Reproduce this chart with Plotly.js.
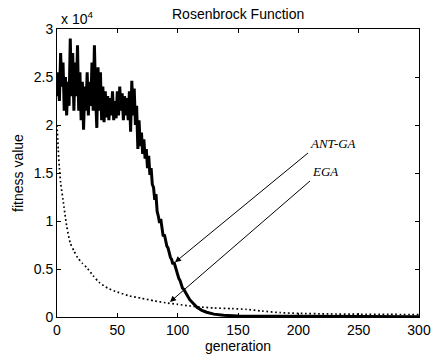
<!DOCTYPE html>
<html>
<head>
<meta charset="utf-8">
<script src="https://cdn.plot.ly/plotly-3.0.1.min.js"></script>
<style>html,body{margin:0;padding:0;background:#fff;}#chart{width:441px;height:357px;}</style>
</head>
<body>
<div id="chart"></div>
<script>
// ANT-GA (solid, noisy): generation / fitness
const antGen = [];
for (let g = 0; g <= 106; g++) antGen.push(g);
antGen.push(108, 110, 113, 116, 120, 124, 130, 138, 150, 175, 200, 250, 300);
const antFit = [
  23000, 25500, 22500, 27500, 24000, 26500, 21500, 25000, 21000, 24500,
  22000, 29000, 23000, 27500, 21500, 26500, 23000, 28300, 21500, 25500,
  20500, 24500, 19500, 24000, 21500, 25500, 21000, 24500, 22000, 26500,
  21500, 28300, 23000, 19700, 26000, 21500, 25500, 20500, 24000, 20300,
  23500, 20800, 23000, 20500, 22800, 21000, 23500, 20500, 22500, 20700,
  23500, 21000, 24000, 21500, 23300, 20500, 23000, 21000, 22800, 20500,
  23500, 19300, 24600, 21000, 23800, 20000, 22000, 17500, 20500, 17800,
  19200, 17000, 18500, 16500, 17500, 15500, 16800, 14800, 15500, 13800,
  13500, 12200, 12800, 11000, 10500, 9800, 10200, 9000, 8400, 8600,
  7800, 7400, 7200, 6500, 6200, 6000, 5500, 5700, 5300, 4800,
  4300, 4000, 3800, 3400, 3000, 2900, 2700,
  2200, 1800, 1400, 1000, 700, 500, 300, 180, 100, 80, 60, 40, 30
];

// EGA (dotted): generation / fitness
const egaGen = [0, 1, 2, 3, 5, 8, 11, 14, 17, 21, 25, 30, 35, 42, 50, 60, 70, 80, 90, 100, 110, 120, 130, 145, 157, 170, 185, 200, 225, 250, 275, 300];
const egaFit = [20000, 17500, 15500, 14000, 12200, 9500, 7700, 6900, 6200, 5600, 5100, 4300, 3600, 3000, 2600, 2200, 1950, 1700, 1480, 1320, 1150, 1030, 940, 870, 800, 620, 450, 380, 320, 290, 270, 250];

const xTicks = [0, 50, 100, 150, 200, 250, 300];
const yTicks = [0, 5000, 10000, 15000, 20000, 25000, 30000];
const yTickText = ['0', '0.5', '1', '1.5', '2', '2.5', '3'];

// labels with arrows: arrow head point and label corner (tail)
const labelNames = ['ANT-GA', 'EGA'];
const headGen = [97.8, 93.6];
const headFit = [5700, 1560];
const tailGen = [208, 209.7];
const tailFit = [17080, 14170];

const FONT = 'Arial, "Liberation Sans", Helvetica, sans-serif';
const SERIF = '"Times New Roman", "Liberation Serif", serif';

const traces = [
  {x: egaGen, y: egaFit, mode: 'lines', name: 'EGA',
   line: {color: '#000', width: 1.7, dash: '1.7px,2.6px', shape: 'spline', smoothing: 0.6}},
  {x: antGen, y: antFit, mode: 'lines', name: 'ANT-GA',
   line: {color: '#000', width: 3}}
];

const annotations = [
  {xref: 'paper', yref: 'paper', x: 0.005, y: 1.0, xanchor: 'left', yanchor: 'bottom',
   text: 'x 10<sup>4</sup>', showarrow: false, font: {family: FONT, size: 14, color: '#000'}}
];
labelNames.forEach((name, i) => {
  annotations.push({
    x: headGen[i], y: headFit[i], ax: tailGen[i], ay: tailFit[i], axref: 'x', ayref: 'y',
    text: name, xanchor: 'left', yanchor: 'bottom',
    showarrow: true, arrowhead: 2, arrowsize: 1.2, arrowwidth: 1, arrowcolor: '#000',
    font: {family: SERIF, size: 13, color: '#000', style: 'italic'}
  });
});

const layout = {
  width: 441, height: 357,
  margin: {l: 57, r: 22, t: 29, b: 40},
  paper_bgcolor: '#fff', plot_bgcolor: '#fff',
  showlegend: false,
  font: {family: FONT, size: 14, color: '#000'},
  title: {text: 'Rosenbrock Function', x: 0.54, xanchor: 'center', y: 0.975, yanchor: 'top',
          font: {family: FONT, size: 14, color: '#000'}},
  xaxis: {range: [0, 300], tickvals: xTicks, ticks: 'inside', ticklen: 4, tickwidth: 1,
          tickcolor: '#000', showline: true, linecolor: '#000', linewidth: 1, mirror: 'ticks',
          showgrid: false, zeroline: false,
          tickfont: {family: FONT, size: 14, color: '#000'},
          title: {text: 'generation', standoff: 2, font: {family: FONT, size: 14, color: '#000'}}},
  yaxis: {range: [0, 30000], tickvals: yTicks, ticktext: yTickText, ticks: 'inside', ticklen: 4,
          tickwidth: 1, tickcolor: '#000', showline: true, linecolor: '#000', linewidth: 1,
          mirror: 'ticks', showgrid: false, zeroline: false,
          tickfont: {family: FONT, size: 14, color: '#000'},
          title: {text: 'fitness value', standoff: 6, font: {family: FONT, size: 14, color: '#000'}}},
  annotations: annotations
};

Plotly.newPlot('chart', traces, layout, {displayModeBar: false, staticPlot: true});
</script>
</body>
</html>
